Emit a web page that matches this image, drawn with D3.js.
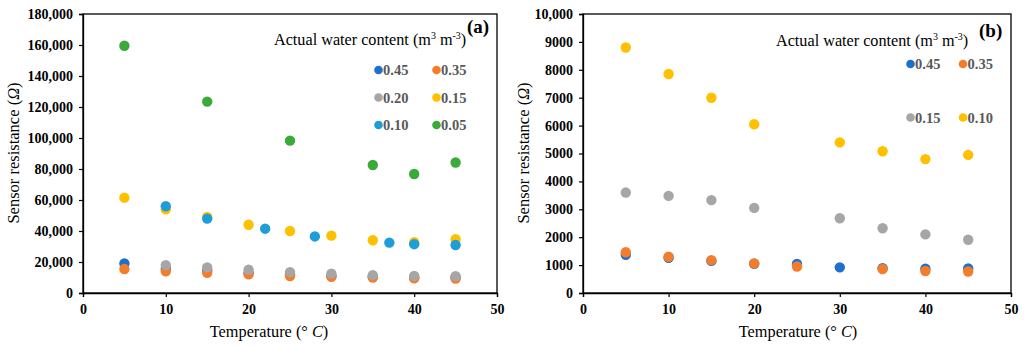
<!DOCTYPE html>
<html><head><meta charset="utf-8">
<script src="https://cdn.jsdelivr.net/npm/d3@7"></script>
<style>body{margin:0;background:#fff}svg{display:block}</style>
</head><body><svg id="c" width="1024" height="349"></svg>
<script>
// ---- Data ----
const xTicks = [0, 10, 20, 30, 40, 50];
const yTicksA = [0, 20000, 40000, 60000, 80000, 100000, 120000, 140000, 160000, 180000];
const yTicksB = [0, 1000, 2000, 3000, 4000, 5000, 6000, 7000, 8000, 9000, 10000];

// Panel (a)
const a045_T = [5, 10, 15, 20, 25, 30, 35, 40, 45];
const a045_R = [19000, 15500, 14500, 13000, 12000, 11000, 10500, 10000, 10000];
const a035_T = [5, 10, 15, 20, 25, 30, 35, 40, 45];
const a035_R = [15500, 14000, 13000, 12000, 11000, 10500, 10000, 9500, 9300];
const a020_T = [10, 15, 20, 25, 30, 35, 40, 45];
const a020_R = [18000, 16500, 15000, 13500, 12500, 11500, 11000, 10800];
const a015_T = [5, 10, 15, 20, 25, 30, 35, 40, 45];
const a015_R = [61500, 54000, 49000, 44000, 40000, 37000, 34000, 32800, 34700];
const a010_T = [10, 15, 22, 28, 37, 40, 45];
const a010_R = [56000, 48000, 41500, 36500, 32500, 31500, 31000];
const a005_T = [5, 15, 25, 35, 40, 45];
const a005_R = [159500, 123500, 98300, 82600, 76800, 84200];

// Panel (b)
const b045_T = [5, 10, 15, 20, 25, 30, 35, 40, 45];
const b045_R = [1370, 1260, 1150, 1050, 1040, 920, 890, 870, 880];
const b035_T = [5, 10, 15, 20, 25, 35, 40, 45];
const b035_R = [1460, 1300, 1180, 1060, 950, 860, 790, 770];
const b015_T = [5, 10, 15, 20, 30, 35, 40, 45];
const b015_R = [3600, 3480, 3330, 3050, 2680, 2320, 2100, 1910];
const b010_T = [5, 10, 15, 20, 30, 35, 40, 45];
const b010_R = [8800, 7850, 7000, 6050, 5400, 5080, 4800, 4950];

const C = {c45:"#1f6fcc", c35:"#f47d2c", c20:"#a6a6a6", c15:"#ffc000", c10:"#1e9ed9", c05:"#3aaa3a"};

const seriesA = [
  {name:"0.45", T:a045_T, R:a045_R, color:C.c45},
  {name:"0.35", T:a035_T, R:a035_R, color:C.c35},
  {name:"0.20", T:a020_T, R:a020_R, color:C.c20},
  {name:"0.15", T:a015_T, R:a015_R, color:C.c15},
  {name:"0.10", T:a010_T, R:a010_R, color:C.c10},
  {name:"0.05", T:a005_T, R:a005_R, color:C.c05}
];
const seriesB = [
  {name:"0.45", T:b045_T, R:b045_R, color:C.c45},
  {name:"0.35", T:b035_T, R:b035_R, color:C.c35},
  {name:"0.15", T:b015_T, R:b015_R, color:C.c20},
  {name:"0.10", T:b010_T, R:b010_R, color:C.c15}
];

const svg = d3.select("#c");
const serif = "'Liberation Serif','Times New Roman',serif";

function panel(opt){
  const g = svg.append("g");
  const x = d3.scaleLinear().domain([0,50]).range([opt.x0, opt.x1]);
  const y = d3.scaleLinear().domain([0, opt.ymax]).range([293, 14]);
  // frame
  g.append("rect").attr("x", opt.x0).attr("y", 14).attr("width", opt.x1-opt.x0).attr("height", 279)
    .attr("fill","none").attr("stroke","#000").attr("stroke-width",1.3);
  const xa = g.append("g").attr("transform","translate(0,293)")
    .call(d3.axisBottom(x).tickValues(xTicks).tickSize(4).tickPadding(7).tickFormat(d3.format("d")));
  const ya = g.append("g").attr("transform",`translate(${opt.x0},0)`)
    .call(d3.axisLeft(y).tickValues(opt.yTicks).tickSize(4).tickPadding(6).tickFormat(opt.fmt));
  [xa, ya].forEach(a=>{
    a.select(".domain").attr("stroke","#000").attr("stroke-width",1.3);
    a.selectAll(".tick line").attr("stroke","#000").attr("stroke-width",1.2);
    a.selectAll("text").attr("font-family",serif).attr("font-weight","bold").attr("font-size","14px").attr("fill","#000");
  });
  // axis titles
  g.append("text").attr("x",opt.xtx).attr("y",337).attr("text-anchor","middle")
    .attr("font-family",serif).attr("font-size","16.3px").attr("fill","#000")
    .html('Temperature (° <tspan font-style="italic">C</tspan>)');
  g.append("text").attr("transform",`translate(${opt.ytx},153) rotate(-90)`).attr("text-anchor","middle")
    .attr("font-family",serif).attr("font-size","16.5px").attr("fill","#000")
    .html('Sensor resistance (<tspan font-style="italic">Ω</tspan>)');
  // points
  opt.series.forEach(s=>{
    g.append("g").selectAll("circle").data(s.T.map((t,i)=>({t, r:s.R[i]}))).join("circle")
      .attr("cx",d=>x(d.t)).attr("cy",d=>y(d.r)).attr("r",5.2).attr("fill",s.color);
  });
  // legend title
  const lt = g.append("text").attr("x",opt.ltx).attr("y",opt.lty).attr("font-family",serif)
    .attr("font-size","16.2px").attr("fill","#000");
  lt.append("tspan").text("Actual water content (m");
  lt.append("tspan").attr("font-size","10px").attr("dy",-6).text("3");
  lt.append("tspan").attr("dy",6).text(" m");
  lt.append("tspan").attr("font-size","10px").attr("dy",-6).text("-3");
  lt.append("tspan").attr("dy",6).text(")");
  // panel label
  g.append("text").attr("x",opt.plx).attr("y",opt.ply).attr("font-family",serif).attr("font-weight","bold")
    .attr("font-size","19px").attr("fill","#000").text(opt.label);
  // legend items
  opt.series.forEach((s,i)=>{
    const col = i%2, row = Math.floor(i/2);
    const lx = opt.legX[col], ly = opt.legY[row];
    g.append("circle").attr("cx",lx).attr("cy",ly).attr("r",4.3).attr("fill",s.color);
    g.append("text").attr("x",lx+4.5).attr("y",ly+5).attr("font-family",serif).attr("font-weight","bold")
      .attr("font-size","14.5px").attr("fill","#595959").text(s.name);
  });
}

panel({x0:83, x1:497, ymax:180000, yTicks:yTicksA, fmt:d3.format(","), series:seriesA,
  xtx:269, ytx:19, ltx:274, lty:45, plx:467, ply:33, label:"(a)",
  legX:[378.5, 436.5], legY:[70, 97.5, 125]});
panel({x0:583, x1:1011, ymax:10000, yTicks:yTicksB, fmt:d=>d===10000?"10,000":String(d), series:seriesB,
  xtx:798, ytx:529, ltx:776, lty:46, plx:979, ply:37, label:"(b)",
  legX:[910.5, 963], legY:[64, 117.5]});
</script></body></html>
